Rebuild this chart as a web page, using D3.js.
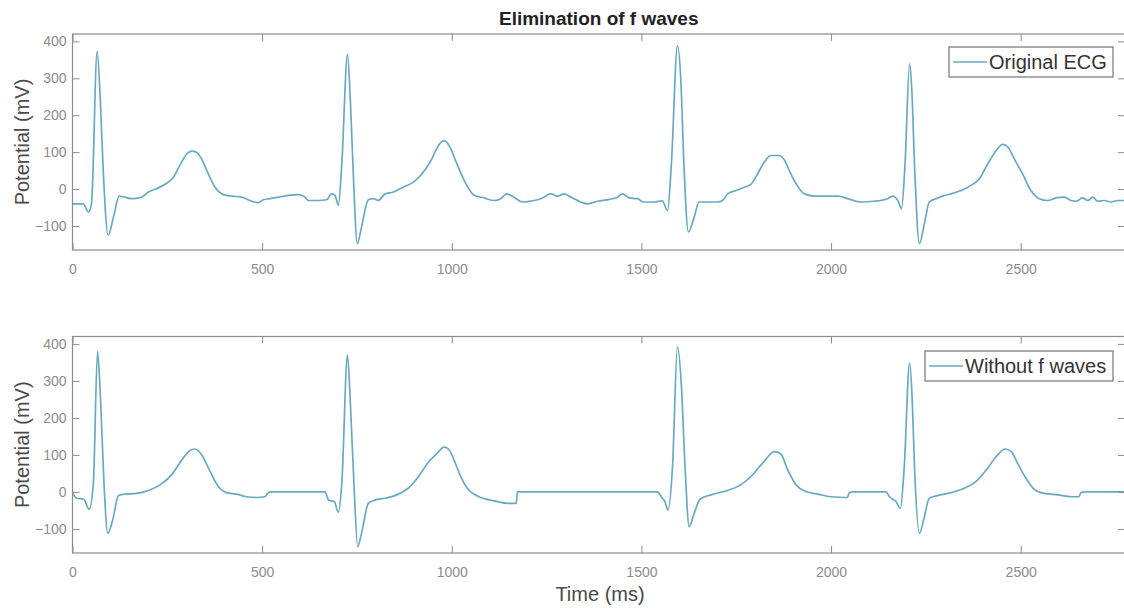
<!DOCTYPE html>
<html>
<head>
<meta charset="utf-8">
<script src="https://cdn.jsdelivr.net/npm/d3@7/dist/d3.min.js"></script>
<style>
  html, body { margin: 0; padding: 0; background: #fff; }
  svg { display: block; font-family: "Liberation Sans", Arial, sans-serif; }
</style>
</head>
<body>
<svg id="chart" width="1124" height="608"></svg>
<script>
// ECG trace before filtering (time in ms, potential in mV)
const timeOriginal = [0,28,42,50,65,73,81,94,108,123,138,156,182,200,222,244,266,283,301,314,327,340,358,376,398,420,446,468,490,503,521,543,569,596,613,622,648,670,683,692,701,710,725,733,740,751,762,780,793,806,824,846,872,899,921,945,962,978,993,1010,1033,1059,1085,1112,1129,1145,1164,1186,1217,1239,1261,1279,1296,1318,1340,1358,1384,1415,1437,1450,1468,1490,1505,1533,1555,1569,1579,1595,1604,1612,1624,1639,1652,1674,1700,1714,1727,1749,1771,1789,1806,1824,1841,1863,1876,1890,1903,1930,1956,1991,2018,2044,2079,2114,2149,2163,2176,2186,2195,2207,2213,2220,2233,2246,2259,2277,2294,2316,2343,2369,2391,2413,2435,2453,2466,2483,2505,2527,2549,2571,2593,2615,2633,2646,2663,2677,2690,2703,2720,2738,2756,2775];
const valuesOriginal = [-40,-40,-62,-40,373,249,50,-125,-76,-19,-22,-26,-22,-8,1,13,32,64,95,103,100,82,41,5,-15,-19,-22,-31,-37,-29,-26,-22,-17,-15,-22,-31,-31,-29,-13,-17,-44,68,364,231,50,-148,-103,-29,-26,-31,-13,-8,5,19,41,77,113,131,118,77,23,-17,-24,-31,-26,-13,-22,-35,-31,-24,-13,-19,-13,-24,-35,-40,-33,-28,-22,-13,-24,-26,-35,-35,-32,-58,68,388,294,68,-116,-76,-35,-35,-35,-31,-13,-4,5,13,41,73,91,91,80,50,23,-13,-19,-19,-19,-26,-35,-33,-26,-19,-31,-53,68,339,267,68,-148,-94,-35,-26,-19,-13,-4,10,28,68,104,121,114,82,41,-4,-26,-31,-24,-22,-31,-33,-24,-31,-22,-33,-31,-35,-31,-31];

// ECG trace after the f waves are removed
const timeFiltered = [0,11,29,44,55,66,74,83,93,106,121,138,169,200,231,261,288,310,323,341,363,385,406,433,459,486,508,516,525,666,675,690,701,710,725,733,742,752,762,780,797,824,855,885,912,938,962,980,993,1006,1024,1041,1072,1112,1151,1170,1173,1542,1553,1562,1570,1582,1595,1605,1615,1626,1639,1655,1683,1727,1762,1788,1823,1850,1867,1886,1908,1934,1965,2000,2040,2044,2048,2057,2145,2154,2171,2183,2193,2207,2214,2220,2233,2244,2259,2281,2316,2351,2382,2409,2435,2459,2475,2492,2514,2536,2562,2598,2633,2653,2659,2668,2775];
const valuesFiltered = [-2,-17,-19,-47,23,379,249,23,-112,-76,-10,-6,-4,4,19,46,86,112,116,100,55,14,-2,-6,-13,-15,-13,-2,0,0,-22,-26,-55,23,370,231,23,-148,-112,-31,-22,-17,-8,10,41,80,105,121,114,86,41,10,-13,-24,-31,-31,0,0,-14,-26,-49,68,393,294,68,-94,-58,-19,-8,4,19,41,82,109,103,59,19,1,-6,-13,-15,-13,-2,0,0,-13,-26,-44,68,348,249,68,-112,-76,-17,-10,-2,10,28,59,95,116,109,77,37,7,-4,-8,-13,-13,-2,0,0];

// Axis ticks and text
const xTicks = [0, 500, 1000, 1500, 2000, 2500];
const yTicks = [-100, 0, 100, 200, 300, 400];
const xDomain = [0, 2775];
const yDomain = [-165, 420];
const chartTitle = "Elimination of f waves";
const xLabel = "Time (ms)";
const yLabel = "Potential (mV)";
const seriesNames = ["Original ECG", "Without f waves"];

const lineColor = "#68a9c2";
const axisColor = "#8c8c8c";
const tickTextColor = "#8c8c8c";

const svg = d3.select("#chart");

const left = 72.5, right = 1125;
const x = d3.scaleLinear().domain(xDomain).range([left, right]);

const panels = [
  { top: 34, bottom: 250, t: timeOriginal, v: valuesOriginal, name: seriesNames[0],
    legend: { x0: 949, x1: 1113, y0: 47, y1: 77 } },
  { top: 336.5, bottom: 553, t: timeFiltered, v: valuesFiltered, name: seriesNames[1],
    legend: { x0: 925, x1: 1113, y0: 351, y1: 381 } }
];

const tickLen = 7;

panels.forEach(p => {
  const y = d3.scaleLinear().domain(yDomain).range([p.bottom, p.top]);
  const g = svg.append("g");

  // trace, clipped to the plot box
  const clipId = "clip" + Math.round(p.top);
  svg.append("clipPath").attr("id", clipId)
    .append("rect").attr("x", left).attr("y", p.top)
    .attr("width", right - left).attr("height", p.bottom - p.top);

  const pts = p.t.map((t, i) => [t, p.v[i]]);
  const line = d3.line().x(d => x(d[0])).y(d => y(d[1])).curve(d3.curveMonotoneX);
  g.append("path").datum(pts)
    .attr("clip-path", `url(#${clipId})`)
    .attr("d", line)
    .attr("fill", "none")
    .attr("stroke", lineColor)
    .attr("stroke-width", 1.7)
    .attr("stroke-linejoin", "round");

  // bottom axis with inward ticks
  const xb = d3.axisBottom(x).tickValues(xTicks).tickSize(-tickLen).tickPadding(14).tickFormat(d3.format("d"));
  const gxb = g.append("g").attr("transform", `translate(0,${p.bottom})`).call(xb);
  // top axis mirror
  const xt = d3.axisTop(x).tickValues(xTicks).tickSize(-tickLen).tickFormat("");
  const gxt = g.append("g").attr("transform", `translate(0,${p.top})`).call(xt);
  // left axis
  const yl = d3.axisLeft(y).tickValues(yTicks).tickSize(-tickLen).tickPadding(6).tickFormat(d3.format("d"));
  const gyl = g.append("g").attr("transform", `translate(${left},0)`).call(yl);
  // right axis mirror
  const yr = d3.axisRight(y).tickValues(yTicks).tickSize(-tickLen).tickFormat("");
  const gyr = g.append("g").attr("transform", `translate(${right},0)`).call(yr);

  [gxb, gxt, gyl, gyr].forEach(a => {
    a.select(".domain").remove();
    a.selectAll(".tick line").attr("stroke", axisColor).attr("stroke-width", 1);
    a.selectAll(".tick text").attr("fill", tickTextColor).attr("font-size", 14)
      .attr("font-family", "'Liberation Sans', Arial, sans-serif");
  });

  // plot box
  g.append("rect").attr("x", left).attr("y", p.top)
    .attr("width", right - left).attr("height", p.bottom - p.top)
    .attr("fill", "none").attr("stroke", axisColor).attr("stroke-width", 1.2);

  // y label
  g.append("text")
    .attr("transform", `translate(29,${(p.top + p.bottom) / 2}) rotate(-90)`)
    .attr("text-anchor", "middle")
    .attr("font-size", 20).attr("fill", "#4a4a4a")
    .text(yLabel);

  // legend
  const L = p.legend;
  const lg = g.append("g");
  lg.append("rect").attr("x", L.x0).attr("y", L.y0)
    .attr("width", L.x1 - L.x0).attr("height", L.y1 - L.y0)
    .attr("fill", "#fff").attr("stroke", "#5a5a5a").attr("stroke-width", 1);
  const ym = (L.y0 + L.y1) / 2;
  lg.append("line").attr("x1", L.x0 + 4).attr("x2", L.x0 + 38)
    .attr("y1", ym).attr("y2", ym)
    .attr("stroke", lineColor).attr("stroke-width", 1.7);
  lg.append("text").attr("x", L.x0 + 40).attr("y", ym + 7)
    .attr("font-size", 20).attr("fill", "#333")
    .text(p.name);
});

// title
svg.append("text").attr("x", (left + right) / 2).attr("y", 25)
  .attr("text-anchor", "middle").attr("font-weight", "bold")
  .attr("font-size", 19).attr("fill", "#222")
  .text(chartTitle);

// x label
svg.append("text").attr("x", 600).attr("y", 601)
  .attr("text-anchor", "middle")
  .attr("font-size", 20).attr("fill", "#4a4a4a")
  .text(xLabel);
</script>
</body>
</html>
